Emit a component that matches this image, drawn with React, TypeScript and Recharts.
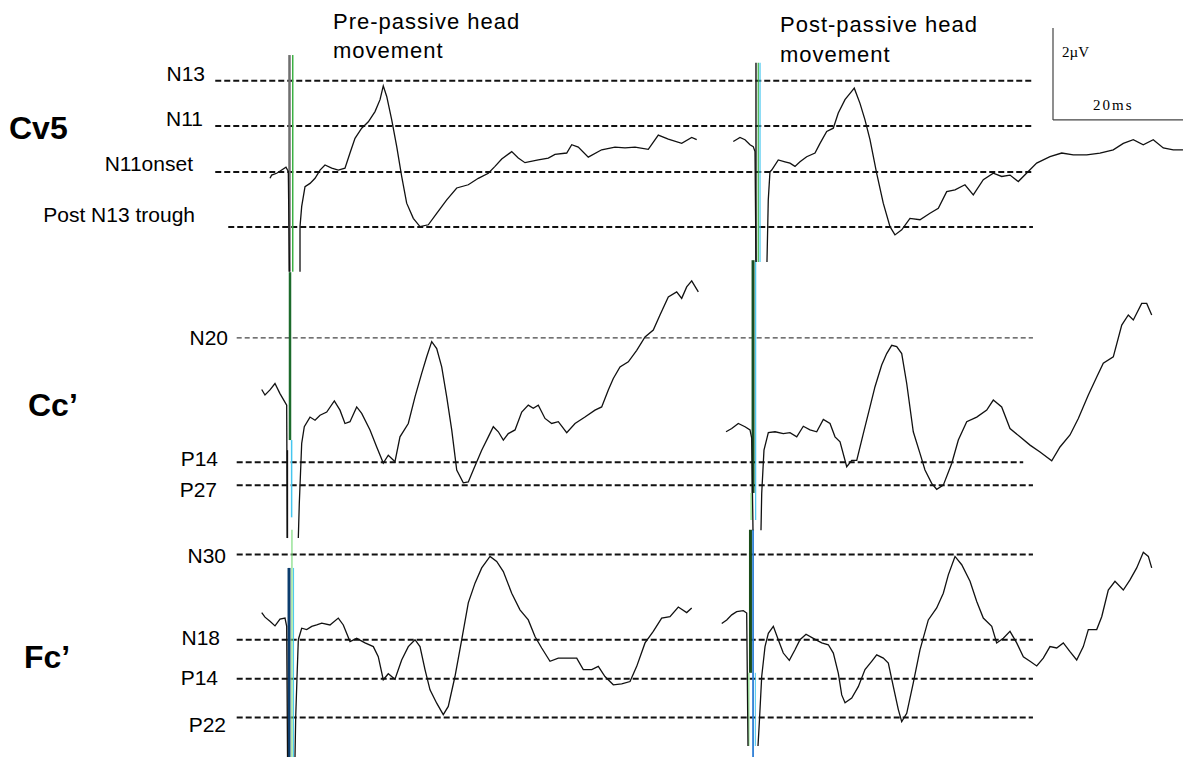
import React from "react";
import { ComposedChart, Line, XAxis, YAxis, ReferenceLine } from "recharts";

// page geometry and the figure's own scale (20 ms / 2 µV scale bar)
const W = 1183;
const H = 757;
const PX_PER_MS = 6.5;
const PX_PER_UV = 46;
const STIM_PX = 290;
const X_DOMAIN: [number, number] = [-STIM_PX / PX_PER_MS, (W - STIM_PX) / PX_PER_MS];
const Y_DOMAIN: [number, number] = [0, H / PX_PER_UV];

// post-movement sweep is drawn to the right of the pre sweep
const POST_SHIFT_MS = 71.54;

// vertical offset of each channel (µV above the bottom edge)
const ROW_BASE = { cv5: 12.72, cc: 6.41, fc: 1.7 };

// [time after stimulus (ms), amplitude (µV)]; null = trace leaves the panel (stimulus artefact)
const CV5_PRE = [
  [-3.08, -0.14], [-2.82, -0.07], [-2.05, -0.03], [-1.28, 0.04], [-0.62, 0.1], [-0.26, 0.01],
  [-0.08, -2.17], [0.7, null], [1.54, -2.17], [1.54, -1.19], [1.8, -0.75], [2.31, -0.32], [3.08, -0.25],
  [3.85, -0.14], [4.62, 0.04], [5.38, 0.15], [6.42, 0.08], [7.43, 0.04], [8.46, 0.08],
  [9.23, 0.41], [10.0, 0.73], [11.03, 0.95], [12.05, 1.09], [13.08, 1.31], [13.85, 1.57],
  [14.35, 1.87], [14.88, 1.64], [15.65, 1.13], [16.42, 0.55], [17.18, -0.1], [17.95, -0.68],
  [18.97, -1.01], [20.0, -1.19], [21.28, -1.15], [22.57, -0.9], [24.11, -0.61], [25.65, -0.35],
  [27.43, -0.28], [28.97, -0.14], [30.51, -0.03], [31.54, 0.12], [32.57, 0.28], [34.11, 0.44],
  [35.12, 0.3], [36.15, 0.2], [38.2, 0.26], [39.74, 0.3], [40.77, 0.38], [42.57, 0.41],
  [43.34, 0.59], [44.35, 0.54], [45.89, 0.32], [47.95, 0.48], [50.0, 0.54], [51.54, 0.52],
  [53.08, 0.54], [55.12, 0.49], [56.66, 0.8], [58.2, 0.71], [60.26, 0.62], [61.8, 0.75], [62.57, 0.7],
];

const CV5_POST = [
  [-3.34, 0.66], [-2.31, 0.75], [-1.54, 0.7], [-0.77, 0.59], [-0.27, 0.55], [0.0, 0.44],
  [0.15, -1.96], [1.0, null], [1.84, -1.96], [2.04, -0.61], [2.3, 0.0], [2.57, 0.04], [3.58, 0.26],
  [4.61, 0.22], [5.38, 0.19], [6.15, 0.12], [6.92, 0.22], [7.95, 0.33], [9.23, 0.41],
  [10.0, 0.62], [11.03, 0.88], [12.04, 0.95], [12.81, 1.28], [13.84, 1.57], [14.87, 1.75],
  [15.27, 1.82], [16.15, 1.49], [16.92, 1.13], [17.69, 0.7], [18.72, -0.03], [19.73, -0.68],
  [20.77, -1.19], [21.53, -1.37], [22.57, -1.26], [23.84, -1.01], [25.38, -1.04], [26.92, -0.9],
  [28.2, -0.79], [29.49, -0.43], [30.77, -0.39], [32.3, -0.28], [33.58, -0.5], [35.12, -0.17],
  [36.66, -0.03], [37.95, -0.1], [39.23, -0.07], [40.5, -0.21], [42.04, 0.01], [43.33, 0.19],
  [45.38, 0.33], [47.18, 0.41], [48.97, 0.37], [51.03, 0.37], [53.07, 0.41], [55.12, 0.48],
  [56.66, 0.62], [58.2, 0.7], [59.73, 0.59], [61.27, 0.7], [62.81, 0.52], [64.35, 0.48], [65.84, 0.48],
];

const CC_PRE = [
  [-4.35, 1.58], [-3.85, 1.46], [-3.08, 1.57], [-2.31, 1.71], [-1.54, 1.49], [-0.51, 1.24],
  [-0.42, -1.65], [0.4, null], [1.28, -1.65], [1.43, -0.9], [1.8, 0.41], [2.2, 0.77], [3.08, 0.98],
  [3.85, 0.91], [4.62, 1.02], [5.65, 1.09], [6.82, 1.33], [7.69, 1.13], [8.46, 0.84],
  [9.23, 0.88], [10.26, 1.2], [11.03, 1.06], [12.31, 0.7], [13.34, 0.33], [14.35, -0.02],
  [15.12, 0.15], [16.15, 0.01], [16.92, 0.55], [18.2, 0.84], [19.23, 1.42], [20.26, 1.93],
  [21.03, 2.29], [21.8, 2.62], [22.57, 2.47], [23.34, 2.07], [24.11, 1.42], [24.88, 0.7],
  [25.65, -0.17], [26.66, -0.45], [27.43, -0.43], [28.2, -0.17], [29.49, 0.26], [30.51, 0.55],
  [31.28, 0.77], [32.05, 0.66], [32.82, 0.48], [33.58, 0.62], [34.62, 0.7], [35.65, 1.09],
  [36.66, 1.24], [37.43, 1.17], [38.2, 1.24], [39.23, 0.95], [40.26, 0.84], [41.28, 0.88],
  [42.57, 0.64], [43.85, 0.84], [45.38, 0.98], [46.92, 1.13], [47.95, 1.2], [48.97, 1.57],
  [49.74, 1.82], [50.77, 2.07], [52.05, 2.18], [53.34, 2.43], [54.62, 2.72], [55.89, 2.87],
  [56.92, 3.2], [58.2, 3.59], [59.49, 3.7], [60.26, 3.56], [61.03, 3.81], [61.8, 3.94], [62.82, 3.7],
];

const CC_POST = [
  [-4.46, 0.66], [-3.58, 0.73], [-2.57, 0.84], [-1.54, 0.77], [-0.77, 0.7], [-0.51, 0.52],
  [-0.31, -1.48], [0.3, null], [0.92, -1.48], [1.03, -0.68], [1.38, 0.26], [2.05, 0.64], [3.08, 0.66],
  [4.35, 0.62], [5.38, 0.64], [6.42, 0.55], [7.43, 0.78], [8.46, 0.7], [9.49, 0.66],
  [10.51, 0.93], [11.54, 0.84], [12.31, 0.55], [13.08, 0.44], [14.11, -0.1], [14.88, 0.04],
  [15.65, 0.04], [16.66, 0.62], [17.69, 1.2], [18.46, 1.64], [19.49, 2.11], [20.26, 2.36],
  [21.03, 2.54], [21.8, 2.51], [22.57, 2.36], [23.34, 1.71], [24.35, 0.66], [25.38, 0.19],
  [26.15, -0.17], [27.18, -0.46], [27.95, -0.59], [28.97, -0.5], [30.26, -0.03], [31.28, 0.48],
  [32.57, 0.88], [34.11, 0.98], [35.65, 1.13], [36.66, 1.35], [37.95, 1.2], [39.23, 0.73],
  [40.77, 0.55], [42.31, 0.37], [43.85, 0.22], [45.65, 0.03], [46.92, 0.33], [48.46, 0.59],
  [49.74, 0.95], [51.28, 1.46], [52.57, 1.85], [53.58, 2.15], [55.12, 2.29], [56.42, 2.98],
  [57.43, 3.2], [58.2, 3.09], [59.49, 3.45], [60.26, 3.45], [61.03, 3.2],
];

const FC_PRE = [
  [-4.35, 1.44], [-3.85, 1.34], [-3.08, 1.25], [-2.31, 1.15], [-1.54, 1.3], [-0.77, 1.32],
  [-0.51, 1.14], [-0.38, -1.7], [0.2, null], [0.77, -1.7], [0.88, -0.82], [1.12, 0.2], [1.28, 0.85],
  [1.8, 1.1], [2.57, 1.07], [3.34, 1.14], [4.11, 1.17], [4.88, 1.21], [6.15, 1.17],
  [7.43, 1.32], [8.2, 1.17], [9.23, 0.81], [10.26, 0.88], [11.54, 0.78], [12.82, 0.7],
  [13.58, 0.48], [14.35, -0.02], [15.12, 0.11], [16.15, -0.01], [17.18, 0.41], [18.2, 0.7],
  [19.23, 0.85], [20.0, 0.7], [20.77, 0.2], [21.54, -0.24], [22.57, -0.53], [23.58, -0.78],
  [24.35, -0.6], [25.38, 0.05], [26.42, 0.85], [27.43, 1.65], [28.46, 2.08], [29.49, 2.41],
  [30.77, 2.66], [31.8, 2.55], [32.82, 2.33], [34.11, 1.86], [35.38, 1.5], [36.66, 1.28],
  [37.69, 0.92], [38.72, 0.67], [40.0, 0.38], [41.28, 0.45], [42.82, 0.45], [44.11, 0.45],
  [45.12, 0.2], [46.42, 0.2], [47.43, 0.27], [48.46, 0.05], [49.74, -0.13], [51.03, -0.11],
  [52.31, -0.06], [53.34, 0.27], [54.62, 0.78], [55.89, 1.03], [57.18, 1.32], [58.46, 1.35],
  [59.74, 1.56], [61.03, 1.44], [61.8, 1.54],
];

const FC_POST = [
  [-5.12, 1.2], [-4.35, 1.28], [-3.58, 1.39], [-2.82, 1.46], [-1.8, 1.48], [-1.28, 1.43],
  [-1.08, -1.46], [-0.3, null], [0.46, -1.46], [0.66, -0.96], [1.03, 0.05], [1.54, 0.7], [2.05, 0.99],
  [2.82, 1.14], [3.58, 0.85], [4.35, 0.56], [5.28, 0.4], [6.15, 0.63], [6.92, 0.85],
  [7.85, 0.97], [8.97, 0.88], [10.26, 0.78], [11.28, 0.74], [12.05, 0.56], [12.82, 0.12],
  [13.34, -0.35], [13.85, -0.52], [14.88, -0.42], [15.89, -0.17], [16.92, 0.2], [17.95, 0.38],
  [18.72, 0.52], [19.74, 0.45], [20.51, 0.34], [21.28, -0.17], [22.05, -0.67], [22.57, -0.93],
  [23.34, -0.75], [24.35, -0.09], [25.38, 0.63], [26.66, 1.28], [27.95, 1.54], [28.97, 1.86],
  [29.74, 2.26], [30.77, 2.66], [31.8, 2.48], [33.08, 2.12], [34.11, 1.68], [35.12, 1.32],
  [36.42, 1.14], [37.18, 0.78], [38.2, 0.88], [39.23, 1.03], [40.26, 0.78], [41.28, 0.48],
  [42.31, 0.38], [43.34, 0.28], [44.35, 0.45], [45.38, 0.7], [46.42, 0.67], [47.43, 0.78],
  [48.46, 0.59], [49.49, 0.41], [50.51, 0.7], [51.28, 1.07], [52.57, 1.07], [53.34, 1.35],
  [54.35, 1.93], [55.38, 2.12], [56.66, 1.93], [57.69, 2.15], [58.72, 2.41], [59.74, 2.75],
  [60.51, 2.66], [61.03, 2.41],
];

// latency markers (µV relative to the channel baseline)
const CV5_LEVELS = [1.98, 1.0, 0, -1.2];
const CC_LEVELS = [2.7, 0, -0.5];
const FC_LEVELS = [2.7, 0.85, 0, -0.84];

// scale bar
const SCALE_MS = 20;
const SCALE_UV = 2;

const series = (pts: (number | null)[][], shift: number, base: number) =>
  pts.map(([t, v]) => ({ t: (t as number) + shift, v: v == null ? null : base + v }));

const TRACES = [
  { id: "cv5-pre", data: series(CV5_PRE, 0, ROW_BASE.cv5) },
  { id: "cv5-post", data: series(CV5_POST, POST_SHIFT_MS, ROW_BASE.cv5) },
  { id: "cc-pre", data: series(CC_PRE, 0, ROW_BASE.cc) },
  { id: "cc-post", data: series(CC_POST, POST_SHIFT_MS, ROW_BASE.cc) },
  { id: "fc-pre", data: series(FC_PRE, 0, ROW_BASE.fc) },
  { id: "fc-post", data: series(FC_POST, POST_SHIFT_MS, ROW_BASE.fc) },
];

// dashed latency lines
const DASHES = [
  ...CV5_LEVELS.map((l, i) => ({ y: ROW_BASE.cv5 + l, a: i === 3 ? -9.5 : -11.5, b: 114.3, thin: false })),
  ...CC_LEVELS.map((l, i) => ({ y: ROW_BASE.cc + l, a: -8.2, b: i === 1 ? 112.8 : 114.3, thin: i === 0 })),
  ...FC_LEVELS.map((l) => ({ y: ROW_BASE.fc + l, a: -8.2, b: 114.3, thin: false })),
];

// stimulus trigger bars: [row, ms offset, from µV, to µV, colour, width], relative to row base
type Mark = [keyof typeof ROW_BASE, number, number, number, string, number];
const PRE_MARKS: Mark[] = [
  ["cv5", -0.08, 2.54, -2.17, "#6f6f6f", 2.5],
  ["cv5", 0.42, 2.54, -2.17, "#3cb043", 1.5],
  ["cc", 0, 4.13, 0.48, "#1c6b2c", 2.5],
  ["cc", 0.25, 0.48, -1.2, "#45c6ef", 1.5],
  ["cc", -0.4, 0.26, -1.65, "#111", 1.5],
  ["fc", 0.3, 3.24, -1.7, "#7fdc7f", 1.2],
  ["fc", -0.15, 2.41, -1.7, "#0c3d6e", 3],
  ["fc", 0.55, 2.41, -1.7, "#45c6ef", 1],
];
const POST_MARKS: Mark[] = [
  ["cv5", 0.15, 2.37, -1.96, "#222", 1.5],
  ["cv5", 0.5, 2.37, -1.96, "#3cb043", 1.2],
  ["cv5", 0.77, 2.37, -1.96, "#45c6ef", 1.2],
  ["cc", -0.3, 4.39, -0.67, "#174f22", 3],
  ["cc", 0.1, 4.39, -1.26, "#45c6ef", 1.2],
  ["cc", -0.6, -0.67, -1.26, "#7fdc7f", 1.2],
  ["fc", -0.7, 3.24, 0.13, "#1a4d1a", 3],
  ["fc", -0.3, 3.24, -1.7, "#2f7fd6", 1.8],
  ["fc", -0.95, 0.13, -1.46, "#7fdc7f", 1.2],
  ["fc", 0.05, 0.13, -1.46, "#45c6ef", 1],
];

const SANS = "'Liberation Sans', Arial, sans-serif";
const SERIF = "'Liberation Serif', 'Times New Roman', serif";

function Txt({ x, y, end, size = 21, bold, serif, spacing, children }: any) {
  return (
    <div
      style={{
        position: "absolute",
        top: y,
        left: end ? undefined : x,
        right: end ? W - x : undefined,
        transform: "translateY(-50%)",
        fontFamily: serif ? SERIF : SANS,
        fontSize: size,
        fontWeight: bold ? 700 : 400,
        letterSpacing: spacing ?? 0,
        lineHeight: 1,
        whiteSpace: "nowrap",
        color: "#000",
      }}
    >
      {children}
    </div>
  );
}

export default function App() {
  const bar = (m: Mark, shift: number, k: string) => (
    <ReferenceLine
      key={k}
      segment={[{ x: m[1] + shift, y: ROW_BASE[m[0]] + m[2] }, { x: m[1] + shift, y: ROW_BASE[m[0]] + m[3] }]}
      stroke={m[4]}
      strokeWidth={m[5]}
      ifOverflow="visible"
    />
  );
  const t0 = X_DOMAIN[1] - SCALE_MS;
  const y0 = 13.85;

  return (
    <div style={{ position: "absolute", left: 0, top: 0, width: W, height: H, background: "#fff", overflow: "hidden" }}>
      <ComposedChart width={W} height={H} margin={{ top: 0, right: 0, bottom: 0, left: 0 }}>
        <XAxis type="number" dataKey="t" domain={X_DOMAIN} allowDataOverflow hide />
        <YAxis type="number" domain={Y_DOMAIN} allowDataOverflow hide />
        {DASHES.map((d, i) => (
          <ReferenceLine
            key={"d" + i}
            segment={[{ x: d.a, y: d.y }, { x: d.b, y: d.y }]}
            stroke={d.thin ? "#444" : "#111"}
            strokeWidth={d.thin ? 1.2 : 2}
            strokeDasharray={d.thin ? "5 3" : "6 3"}
          />
        ))}
        {PRE_MARKS.map((m, i) => bar(m, 0, "pm" + i))}
        {POST_MARKS.map((m, i) => bar(m, POST_SHIFT_MS, "qm" + i))}
        <ReferenceLine segment={[{ x: t0, y: y0 }, { x: t0, y: y0 + SCALE_UV }]} stroke="#444" strokeWidth={1.2} />
        <ReferenceLine segment={[{ x: t0, y: y0 }, { x: t0 + SCALE_MS, y: y0 }]} stroke="#444" strokeWidth={1.2} ifOverflow="visible" />
        {TRACES.map((tr) => (
          <Line
            key={tr.id}
            data={tr.data}
            dataKey="v"
            type="linear"
            stroke="#111"
            strokeWidth={1.3}
            dot={false}
            activeDot={false}
            connectNulls={false}
            isAnimationActive={false}
          />
        ))}
      </ComposedChart>

      <Txt x={333} y={22} size={22} spacing={1}>Pre-passive head</Txt>
      <Txt x={333} y={51} size={22} spacing={1}>movement</Txt>
      <Txt x={780} y={25} size={22} spacing={1}>Post-passive head</Txt>
      <Txt x={780} y={55} size={22} spacing={1}>movement</Txt>

      <Txt x={1062} y={52} size={15} serif>2µV</Txt>
      <Txt x={1093} y={105} size={15} serif spacing={2}>20ms</Txt>

      <Txt x={9} y={128} size={32} bold>Cv5</Txt>
      <Txt x={28} y={405} size={32} bold>Cc’</Txt>
      <Txt x={24} y={657} size={32} bold>Fc’</Txt>

      <Txt x={205} y={73} end>N13</Txt>
      <Txt x={203} y={118} end>N11</Txt>
      <Txt x={193} y={163} end>N11onset</Txt>
      <Txt x={195} y={214} end>Post N13 trough</Txt>

      <Txt x={228} y={337} end>N20</Txt>
      <Txt x={218} y={458} end>P14</Txt>
      <Txt x={217} y={489} end>P27</Txt>

      <Txt x={226} y={555} end>N30</Txt>
      <Txt x={220} y={637} end>N18</Txt>
      <Txt x={218} y={677} end>P14</Txt>
      <Txt x={226} y={724} end>P22</Txt>
    </div>
  );
}
